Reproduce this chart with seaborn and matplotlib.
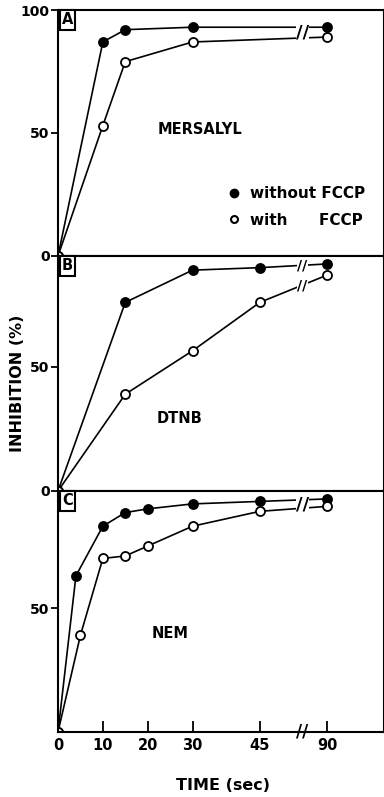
import numpy as np
import pandas as pd
import seaborn as sns
import matplotlib.pyplot as plt
from matplotlib.lines import Line2D

# A - mersalyl
a_time = [0, 10, 15, 30, 90]
a_without = [0, 87, 92, 93, 93]
a_with = [0, 53, 79, 87, 89]

# B - DTNB
b_time = [0, 15, 30, 45, 90]
b_without = [0, 76, 89, 90, 91.5]
b_with = [0, 39, 56.5, 76, 87]

# C - NEM
c_time_without = [0, 4, 10, 15, 20, 30, 45, 90]
c_without = [0, 63, 83, 88.5, 90, 92, 93, 94]
c_time_with = [0, 5, 10, 15, 20, 30, 45, 90]
c_with = [0, 39, 70, 71, 75, 83, 89, 91]

time_ticks = [0, 10, 20, 30, 45, 90]
time_labels = ["0", "10", "20", "30", "45", "90"]


def tmap(t):
    # broken axis: after 45 s the scale is compressed 3x
    t = np.asarray(t, float)
    return np.where(t <= 45, t, 45 + (t - 45) / 3)


BREAK_X = 54.5

sns.set_style("ticks")
plt.rcParams['font.family'] = ['DejaVu Sans']
plt.rcParams['font.weight'] = 'bold'
for k in ("text.color", "axes.labelcolor", "xtick.color", "ytick.color", "axes.edgecolor"):
    plt.rcParams[k] = "black"

fig = plt.figure(figsize=(3.84, 7.97), dpi=100)
left, width = 58 / 384, 326 / 384
ax_a = fig.add_axes([left, 1 - 256 / 797, width, 246 / 797])
ax_b = fig.add_axes([left, 1 - 491 / 797, width, 235 / 797])
ax_c = fig.add_axes([left, 1 - 732 / 797, width, 241 / 797])

panels = [
    (ax_a, "A", "MERSALYL", [(a_time, a_without), (a_time, a_with)], 100, [0, 50, 100]),
    (ax_b, "B", "DTNB", [(b_time, b_without), (b_time, b_with)], 94.7, [0, 50]),
    (ax_c, "C", "NEM", [(c_time_without, c_without), (c_time_with, c_with)], 97.2, [50]),
]
name_pos = {"A": (200, 130), "B": (179, 419), "C": (170, 633)}

for ax, letter, name, series, ytop, yticks in panels:
    breaks = []
    for (t, y), face in zip(series, ["black", "white"]):
        df = pd.DataFrame({"x": tmap(t), "y": y})
        sns.lineplot(data=df, x="x", y="y", ax=ax, color="black", linewidth=1.2,
                     marker="o", markersize=6.5, markerfacecolor=face,
                     markeredgecolor="black", markeredgewidth=1.3)
        breaks.append(np.interp(BREAK_X, tmap(t), y))
    # one shared break mark when the two lines run close together
    if abs(breaks[0] - breaks[1]) < 6:
        ax.text(BREAK_X, np.mean(breaks), "//", ha="center", va="center", fontsize=13,
                fontweight="bold", bbox=dict(boxstyle="square,pad=0.0", fc="white", ec="none"))
    else:
        for yb in breaks:
            ax.text(BREAK_X, yb, "//", ha="center", va="center", fontsize=10,
                    fontweight="bold", bbox=dict(boxstyle="square,pad=0.05", fc="white", ec="none"))
    ax.set_xlim(0, 72.7)
    ax.set_ylim(0, ytop)
    ax.set_yticks(yticks)
    ax.set_yticklabels([str(v) for v in yticks])
    ax.set_xlabel("")
    ax.set_ylabel("")
    for sp in ax.spines.values():
        sp.set_visible(True)
        sp.set_linewidth(1.5)
    ax.tick_params(axis="y", direction="out", length=5, width=1.3, labelsize=10, pad=1)
    ax.text(0.012, 0.99, letter, transform=ax.transAxes, ha="left", va="top",
            fontsize=10.5, fontweight="bold",
            bbox=dict(boxstyle="square,pad=0.15", fc="white", ec="black", lw=1.5))
    fx, fy = name_pos[letter]
    fig.text(fx / 384, 1 - fy / 797, name, ha="center", va="center",
             fontsize=10.5, fontweight="bold")

for ax in (ax_a, ax_b):
    ax.set_xticks([])

ax_c.set_xticks(tmap(time_ticks))
ax_c.set_xticklabels(time_labels)
ax_c.tick_params(axis="x", direction="in", length=8, width=1.3, labelsize=10.5, pad=4)
ax_c.text(BREAK_X, 0, "//", ha="center", va="center", fontsize=12, fontweight="bold",
          clip_on=False)

handles = [
    Line2D([], [], ls="none", marker="o", markersize=6, mfc="black", mec="black"),
    Line2D([], [], ls="none", marker="o", markersize=5, mfc="white", mec="black", mew=1.5),
]
ax_a.legend(handles, ["without FCCP", "with      FCCP"], loc="upper left",
            bbox_to_anchor=(0.48, 0.34), frameon=False, handlelength=0.8,
            handletextpad=0.6, labelspacing=0.75, prop={"size": 11, "weight": "bold"})

fig.text(18 / 384, 1 - 383 / 797, "INHIBITION (%)", rotation=90, ha="center",
         va="center", fontsize=11.5, fontweight="bold")
fig.text(223 / 384, 1 - 785 / 797, "TIME (sec)", ha="center", va="center",
         fontsize=11.5, fontweight="bold")

fig.savefig("out.png", dpi=100)
